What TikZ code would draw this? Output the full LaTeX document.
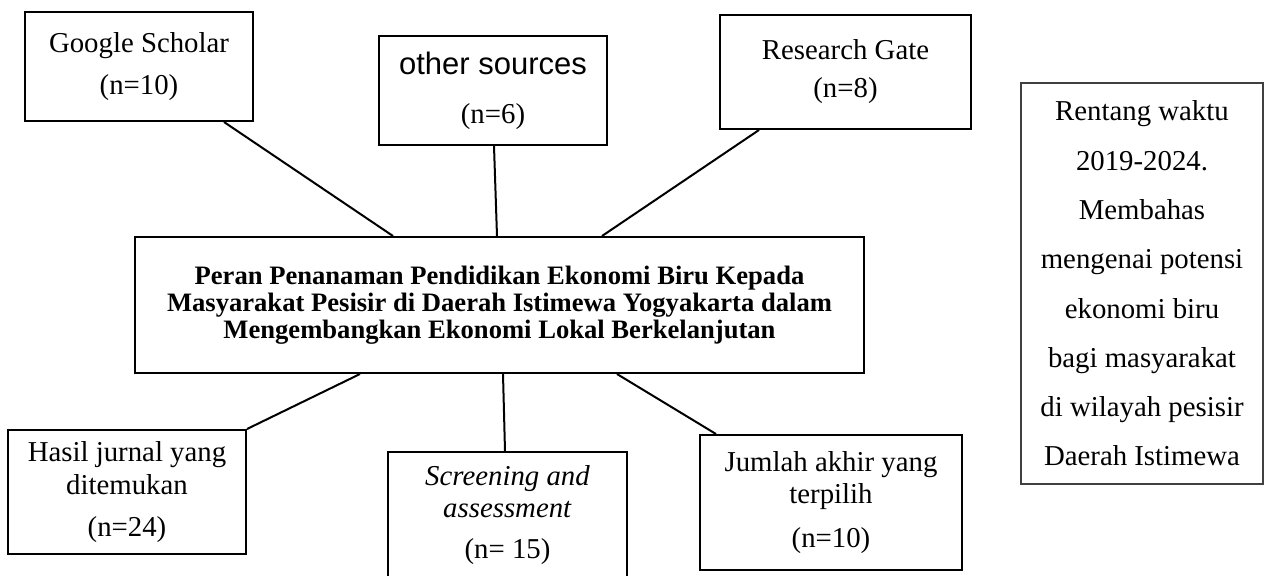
\documentclass[tikz,border=0pt]{standalone}
\usepackage{fontspec}
\setmainfont{Liberation Serif}
\setsansfont{Liberation Sans}
\usetikzlibrary{calc}

\begin{document}
\begin{tikzpicture}[x = 0.5pt, y = -0.5pt,
    box/.style = {draw, line width = 1pt, rectangle, align = center, inner sep = 0pt,
                  font = \fontsize{14.4}{16}\selectfont},
    note/.style = {draw = black!75, line width = 0.6pt, rectangle, align = center, inner sep = 0pt,
                   font = \fontsize{14.4}{24.65}\selectfont},
    title/.style = {draw, line width = 1pt, rectangle, align = center, inner sep = 0pt,
                    font = \fontsize{13.3}{13.5}\selectfont\bfseries},
    link/.style = {line width = 1pt}]

    \clip (0,0) rectangle (1264,575);

    \node[box, minimum width = 114pt, minimum height = 54.5pt] (gs) at (139,66.5) {Google Scholar\\[5pt](n=10)};
    \node[box, minimum width = 114pt, minimum height = 54.5pt] (os) at (493,90.5) {{\sffamily\fontsize{15.5}{16}\selectfont other sources}\\[8.5pt](n=6)};
    \node[box, minimum width = 125.5pt, minimum height = 57pt] (rg) at (845.5,72) {Research Gate\\[3pt](n=8)};

    \node[title, minimum width = 364.5pt, minimum height = 68pt] (peran) at (499.5,305)
        {Peran Penanaman Pendidikan Ekonomi Biru Kepada\\Masyarakat Pesisir di Daerah Istimewa Yogyakarta dalam\\Mengembangkan Ekonomi Lokal Berkelanjutan};

    \node[box, minimum width = 119pt, minimum height = 62pt] (hasil) at (127,492) {Hasil jurnal yang\\[0.5pt]ditemukan\\[5pt](n=24)};
    \node[box, minimum width = 119.5pt, minimum height = 63.5pt] (screen) at (507.5,515.5) {\textit{Screening and}\\\textit{assessment}\\[4.5pt](n= 15)};
    \node[box, minimum width = 131pt, minimum height = 67.5pt] (akhir) at (831,502.5) {Jumlah akhir yang\\terpilih\\[6pt](n=10)};

    \node[note, minimum width = 121pt, minimum height = 200.5pt] (waktu) at (1142,283.5)
        {Rentang waktu\\2019-2024.\\Membahas\\mengenai potensi\\ekonomi biru\\bagi masyarakat\\di wilayah pesisir\\Daerah Istimewa};

    \draw[link] ([xshift = -15pt]gs.south east) -- ([xshift = 129.5pt]peran.north west);
    \draw[link] ([xshift = 0.5pt]os.south) -- ([xshift = -1.25pt]peran.north);
    \draw[link] ([xshift = 20pt]rg.south west) -- ([xshift = 51.25pt]peran.north);

    \draw[link] ([xshift = 113pt]peran.south west) -- (hasil.north east);
    \draw[link] ([xshift = 1.75pt]peran.south) -- ([xshift = -1.25pt]screen.north);
    \draw[link] ([xshift = 58.75pt]peran.south) -- ([xshift = 8.5pt]akhir.north west);

\end{tikzpicture}
\end{document}
